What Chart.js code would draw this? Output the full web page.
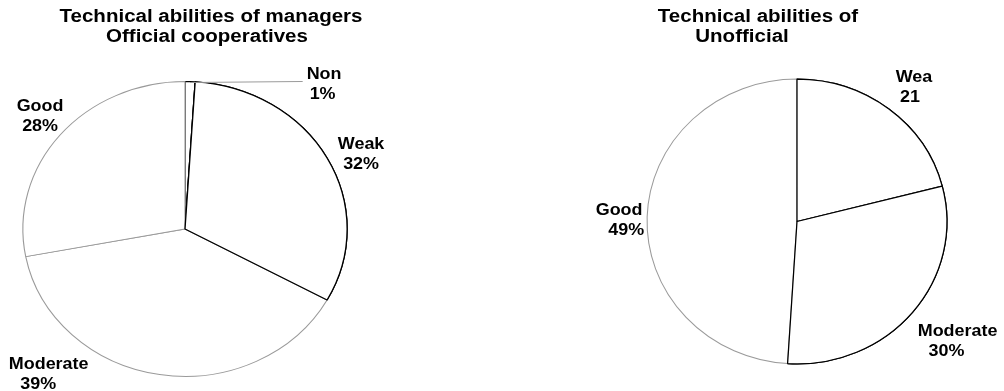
<!DOCTYPE html>
<html>
<head>
<meta charset="utf-8">
<title>Technical abilities of managers</title>
<script src="https://cdn.jsdelivr.net/npm/chart.js@4"></script>
<style>
  html, body { margin: 0; padding: 0; background: #fff; }
  #wrap { position: relative; width: 1004px; height: 391px; overflow: hidden; }
  canvas { position: absolute; top: 0; }
  #official { left: 0; }
  #unofficial { left: 502px; }
</style>
</head>
<body>
<div id="wrap">
  <canvas id="official" width="502" height="391"></canvas>
  <canvas id="unofficial" width="502" height="391"></canvas>
</div>
<script>
// Official cooperatives
const officialTitle = ["Technical abilities of managers", "Official cooperatives"];
const officialLabels = ["Non", "Weak", "Moderate", "Good"];
const officialValues = [1, 32, 39, 28];
const officialValueText = officialValues.map(v => v + "%");

// Unofficial
const unofficialTitle = ["Technical abilities of", "Unofficial"];
const unofficialLabels = ["Wea", "Moderate", "Good"];
const unofficialValues = [21, 30, 49];
const unofficialValueText = ["21", "30%", "49%"];

const BLACK = "#000000";
const GREY = "#9a9a9a";
const FONT = "'Liberation Sans', Arial, sans-serif";

function drawStretched(ctx, text, x, y, sx) {
    ctx.save();
    ctx.translate(x, y);
    ctx.scale(sx, 1);
    ctx.fillText(text, 0, 0);
    ctx.restore();
}

// pie is drawn as an ellipse: stretch it sideways around its centre
const ellipsePie = {
    id: "ellipsePie",
    beforeDatasetsDraw(chart, args, opts) {
        const arc = chart.getDatasetMeta(0).data[0];
        const ctx = chart.ctx;
        ctx.save();
        ctx.translate(arc.x, arc.y);
        ctx.scale(opts.sx, 1);
        ctx.translate(-arc.x, -arc.y);
    },
    afterDatasetsDraw(chart, args, opts) {
        const arcs = chart.getDatasetMeta(0).data;
        // dark edged slices go again on top so the shared edges stay black
        opts.front.forEach(i => arcs[i].draw(chart.ctx));
        chart.ctx.restore();
    }
};

// titles plus the two line slice labels
const sliceLabels = {
    id: "sliceLabels",
    afterDraw(chart, args, opts) {
        const ctx = chart.ctx;
        const arcs = chart.getDatasetMeta(0).data;
        const sx = chart.options.plugins.ellipsePie.sx;

        ctx.save();
        ctx.fillStyle = BLACK;
        ctx.textAlign = "center";
        ctx.textBaseline = "alphabetic";

        ctx.font = "bold 18px " + FONT;
        opts.title.forEach((line, i) => {
            drawStretched(ctx, line, opts.titlePos[i][0], opts.titlePos[i][1], 1.14);
        });

        ctx.font = "bold 16px " + FONT;
        arcs.forEach((arc, i) => {
            const mid = (arc.startAngle + arc.endAngle) / 2;
            const ax = arc.x + Math.cos(mid) * arc.outerRadius * sx;
            const ay = arc.y + Math.sin(mid) * arc.outerRadius;
            const [dx, dy, dx2] = opts.offsets[i];
            const x = ax + dx;
            const y = ay + dy;
            const name = chart.data.labels[i];

            if (opts.leaders[i]) {
                const w = ctx.measureText(name).width * 1.12;
                ctx.strokeStyle = GREY;
                ctx.lineWidth = 1;
                ctx.beginPath();
                ctx.moveTo(ax, Math.round(ay) + 0.5);
                ctx.lineTo(x - w / 2 - 4, Math.round(ay) - 0.5);
                ctx.stroke();
            }

            drawStretched(ctx, name, x, y, 1.12);
            drawStretched(ctx, opts.values[i], x + dx2, y + 20, 1.12);
        });
        ctx.restore();
    }
};

function makePie(id, labels, values, borders, widths, padding, sx, front, labelOpts) {
    return new Chart(document.getElementById(id), {
        type: "pie",
        data: {
            labels: labels,
            datasets: [{
                data: values,
                backgroundColor: "#ffffff",
                borderColor: borders,
                borderWidth: widths,
                clip: false
            }]
        },
        options: {
            responsive: false,
            animation: false,
            events: [],
            layout: { padding: padding },
            plugins: {
                legend: { display: false },
                tooltip: { enabled: false },
                ellipsePie: { sx: sx, front: front },
                sliceLabels: labelOpts
            }
        },
        plugins: [ellipsePie, sliceLabels]
    });
}

makePie(
    "official",
    officialLabels,
    officialValues,
    [BLACK, BLACK, GREY, GREY],
    [1.2, 1.2, 1, 1],
    { top: 81, bottom: 14, left: 37, right: 169 },
    1.10,
    [1],
    {
        title: officialTitle,
        titlePos: [[211, 22], [207, 42]],
        values: officialValueText,
        offsets: [[134, -3, -1.5], [34, -9, 0], [-111, -6, -10.5], [-20, -24, 0]],
        leaders: [true, false, false, false]
    }
);

makePie(
    "unofficial",
    unofficialLabels,
    unofficialValues,
    [BLACK, BLACK, GREY],
    [1.2, 1.2, 1],
    { top: 78, bottom: 26, left: 152, right: 64 },
    1.053,
    [0, 1],
    {
        title: unofficialTitle,
        titlePos: [[256, 22], [240, 42]],
        values: unofficialValueText,
        offsets: [[25, -27, -4], [45, 24, -11], [-28, -2, 7]],
        leaders: [false, false, false]
    }
);
</script>
</body>
</html>
